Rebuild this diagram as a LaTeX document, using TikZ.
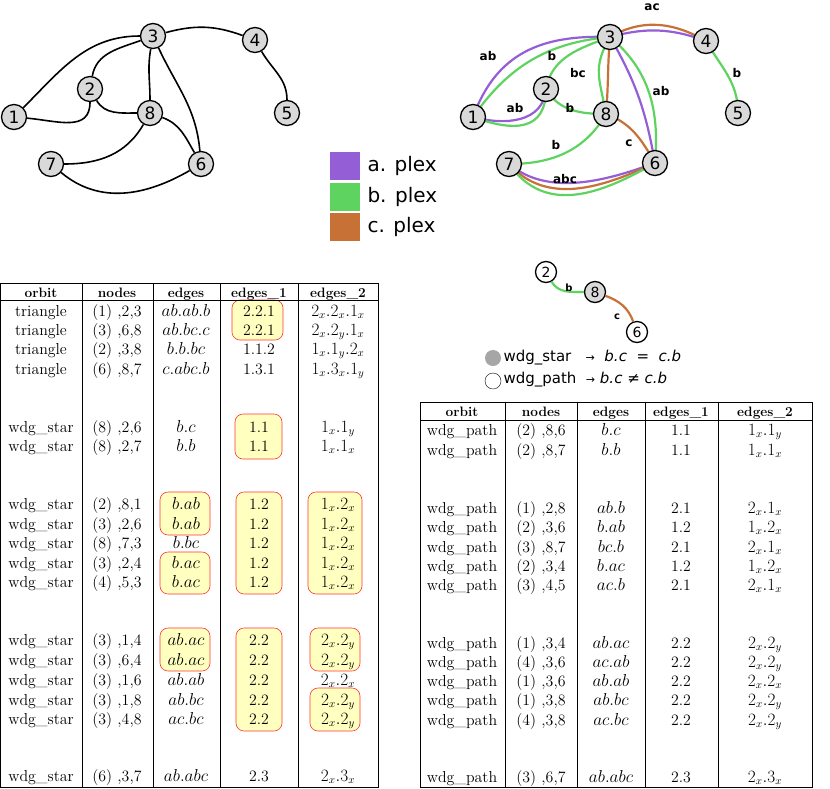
\documentclass[tikz,border=0pt]{standalone}
\usepackage{fontspec}
\newfontfamily\dvs{DejaVu Sans}
\usetikzlibrary{calc}
\definecolor{cpa}{HTML}{935ED6}
\definecolor{cpb}{HTML}{5FD35F}
\definecolor{cpc}{HTML}{C87137}
\definecolor{hl}{HTML}{FFFFC0}
\begin{document}
\begin{tikzpicture}[x=1pt,y=-1pt,
  vx/.style={circle,draw,line width=1.3pt,fill=gray!30,minimum size=25pt,inner sep=0pt,font=\dvs\fontsize{17}{17}\selectfont},
  wx/.style={vx,fill=white},
  ed/.style={line width=1.6pt},
  ce/.style={line width=2.2pt},
  lb/.style={font=\dvs\bfseries\fontsize{12}{12}\selectfont},
  hb/.style={draw=red!80,fill=hl,rounded corners=8pt,line width=0.6pt},
  tx/.style={font=\fontsize{13}{15}\selectfont,anchor=base,scale=1.22,transform shape},
  tm/.style={font=\fontsize{16}{19}\selectfont,anchor=base},
  th/.style={font=\bfseries\fontsize{13}{15}\selectfont,anchor=base,scale=1.05,transform shape},
  tl/.style={line width=0.5pt}]
\useasboundingbox (0,0) rectangle (830,788);
% ---- left graph
\node[vx] (l1) at (14,117) {1};
\node[vx] (l2) at (90,89) {2};
\node[vx] (l3) at (153,36) {3};
\node[vx] (l4) at (255,40) {4};
\node[vx] (l5) at (287,113) {5};
\node[vx] (l8) at (150,113) {8};
\node[vx] (l7) at (51,164) {7};
\node[vx] (l6) at (201,164) {6};
\draw[ed] (l1) to[out=45,in=180] (l3);
\draw[ed] (l1) to[out=-5,in=-90,looseness=1.2] (l2);
\draw[ed] (l2) to[out=80,in=200] (l3);
\draw[ed] (l2) to[out=-60,in=180] (l8);
\draw[ed] (l3) to[out=-100,in=90] (l8);
\draw[ed] (l3) to[out=-65,in=95] (l6);
\draw[ed] (l3) to[out=15,in=160] (l4);
\draw[ed] (l4) to[out=-60,in=90] (l5);
\draw[ed] (l8) to[out=-120,in=0] (l7);
\draw[ed] (l8) to[out=-20,in=120] (l6);
\draw[ed] (l7) to[out=-40,in=-150] (l6);
% ---- right graph edges
\coordinate (r1) at (473,117); \coordinate (r2) at (546,89); \coordinate (r3) at (610,37);
\coordinate (r4) at (706,41); \coordinate (r5) at (738,113); \coordinate (r8) at (606,114);
\coordinate (r7) at (509,164); \coordinate (r6) at (655,163);
\draw[ce,cpa] (r1) to[out=70,in=178,looseness=1.1] (r3);
\draw[ce,cpb] (r1) to[out=55,in=185,looseness=1.0] (r3);
\draw[ce,cpa] (r1) to[out=-15,in=-95,looseness=1.1] (r2);
\draw[ce,cpb] (r1) to[out=-20,in=-90,looseness=1.4] (r2);
\draw[ce,cpb] (r2) to[out=80,in=200] (r3);
\draw[ce,cpb] (r2) to[out=-60,in=180] (r8);
\draw[ce,cpb] (r3) to[out=-120,in=100,looseness=1.2] (r8);
\draw[ce,cpc] (r3) to[out=-95,in=85] (r8);
\draw[ce,cpa] (r3) to[out=-60,in=100] (r6);
\draw[ce,cpb] (r3) to[out=-40,in=85] (r6);
\draw[ce,cpc] (r3) to[out=30,in=150] (r4);
\draw[ce,cpa] (r3) to[out=15,in=160] (r4);
\draw[ce,cpb] (r4) to[out=-60,in=90] (r5);
\draw[ce,cpb] (r8) to[out=-120,in=0] (r7);
\draw[ce,cpc] (r8) to[out=-20,in=120] (r6);
\draw[ce,cpa] (r7) to[out=-40,in=-160,looseness=0.9] (r6);
\draw[ce,cpc] (r7) to[out=-48,in=-155,looseness=1.0] (r6);
\draw[ce,cpb] (r7) to[out=-55,in=-150,looseness=1.1] (r6);
\node[vx] (n1) at (r1) {1}; \node[vx] (n2) at (r2) {2}; \node[vx] (n3) at (r3) {3};
\node[vx] (n4) at (r4) {4}; \node[vx] (n5) at (r5) {5}; \node[vx] (n8) at (r8) {8};
\node[vx] (n7) at (r7) {7}; \node[vx] (n6) at (r6) {6};
\foreach \p/\t in {{488,56}/ab,{552,56}/b,{578,73}/bc,{515,108}/ab,{570,108}/b,{556,145}/b,{629,143}/c,{565,179}/abc,{652,7}/ac,{737,73}/b,{661,91}/ab}
  \node[lb] at (\p) {\t};
% ---- legend
\foreach \y/\c/\t in {166/cpa/a,197/cpb/b,227/cpc/c}{
  \fill[\c] (330,\y-14) rectangle (360,\y+14);
  \node[anchor=west,font=\dvs\fontsize{20}{20}\selectfont] at (364,\y) {\t. plex};}
% ---- small graph
\node[wx,minimum size=21pt,font=\dvs\fontsize{14}{14}\selectfont] (s2) at (546,272) {2};
\node[vx,minimum size=21pt,font=\dvs\fontsize{14}{14}\selectfont] (s8) at (595,292) {8};
\node[wx,minimum size=21pt,font=\dvs\fontsize{14}{14}\selectfont] (s6) at (637,332) {6};
\draw[ce,cpb] (s2) to[out=-60,in=180] (s8);
\draw[ce,cpc] (s8) to[out=-20,in=110] (s6);
\node[lb,font=\dvs\bfseries\fontsize{10}{10}\selectfont] at (569,288) {b};
\node[lb,font=\dvs\bfseries\fontsize{10}{10}\selectfont] at (617,317) {c};
\fill[gray!70] (493,358) circle (8);
\node[circle,draw,minimum size=16pt,inner sep=0pt] (wc) at (493,381) {};
\node[anchor=west,font=\dvs\fontsize{15}{15}\selectfont] at (500,358) {wdg\_star \ \ {\fontsize{11}{11}\selectfont →} \ \textit{b.c} \ = \ \textit{c.b}};
\node[anchor=west,font=\dvs\fontsize{15}{15}\selectfont] at (500,380) {wdg\_path \ {\fontsize{11}{11}\selectfont →} \textit{b.c} ≠ \textit{c.b}};
% ---- left table highlights
\draw[hb] (232,300) rectangle (283,340);
\draw[hb] (235,414) rectangle (282,459);
\draw[hb] (160,492) rectangle (210,535);
\draw[hb] (160,552) rectangle (210,594);
\draw[hb] (236,492) rectangle (282,594);
\draw[hb] (308,492) rectangle (362,594);
\draw[hb] (160,628) rectangle (210,671);
\draw[hb] (236,628) rectangle (282,731);
\draw[hb] (310,628) rectangle (360,671);
\draw[hb] (310,688) rectangle (360,731);
% ---- left table
\draw[tl] (0,283) rectangle (378,787);
\draw[tl] (0,300) -- (378,300);
\foreach \x in {82,153,220,298} \draw[tl] (\x,283) -- (\x,787);
\foreach \x/\t in {41/orbit,117/nodes,186/edges,259/edges\_1,338/edges\_2}
  \node[th] at (\x,297) {\t};
\foreach \y/\a/\b/\c/\d/\e in {
 316/triangle/{(1) ,2,3}/{ab.ab.b}/{2.2.1}/{2_x.2_x.1_x},
 335/triangle/{(3) ,6,8}/{ab.bc.c}/{2.2.1}/{2_x.2_y.1_x},
 354/triangle/{(2) ,3,8}/{b.b.bc}/{1.1.2}/{1_x.1_y.2_x},
 374/triangle/{(6) ,8,7}/{c.abc.b}/{1.3.1}/{1_x.3_x.1_y},
 432/wdg\_star/{(8) ,2,6}/{b.c}/{1.1}/{1_x.1_y},
 451/wdg\_star/{(8) ,2,7}/{b.b}/{1.1}/{1_x.1_x},
 509/wdg\_star/{(2) ,8,1}/{b.ab}/{1.2}/{1_x.2_x},
 529/wdg\_star/{(3) ,2,6}/{b.ab}/{1.2}/{1_x.2_x},
 548/wdg\_star/{(8) ,7,3}/{b.bc}/{1.2}/{1_x.2_x},
 568/wdg\_star/{(3) ,2,4}/{b.ac}/{1.2}/{1_x.2_x},
 587/wdg\_star/{(4) ,5,3}/{b.ac}/{1.2}/{1_x.2_x},
 645/wdg\_star/{(3) ,1,4}/{ab.ac}/{2.2}/{2_x.2_y},
 665/wdg\_star/{(3) ,6,4}/{ab.ac}/{2.2}/{2_x.2_y},
 685/wdg\_star/{(3) ,1,6}/{ab.ab}/{2.2}/{2_x.2_x},
 705/wdg\_star/{(3) ,1,8}/{ab.bc}/{2.2}/{2_x.2_y},
 724/wdg\_star/{(3) ,4,8}/{ac.bc}/{2.2}/{2_x.2_y},
 781/wdg\_star/{(6) ,3,7}/{ab.abc}/{2.3}/{2_x.3_x}}{
  \node[tx] at (41,\y) {\a};
  \node[tx] at (117,\y) {\b};
  \node[tm] at (186,\y) {$\c$};
  \node[tx] at (259,\y) {\d};
  \node[tm] at (338,\y) {$\e$};}
% ---- right table
\draw[tl] (420,402) rectangle (812,787);
\draw[tl] (420,420) -- (812,420);
\foreach \x in {505,577,645,718} \draw[tl] (\x,402) -- (\x,787);
\foreach \x/\t in {462/orbit,541/nodes,611/edges,681/edges\_1,765/edges\_2}
  \node[th] at (\x,416) {\t};
\foreach \y/\a/\b/\c/\d/\e in {
 435/wdg\_path/{(2) ,8,6}/{b.c}/{1.1}/{1_x.1_y},
 455/wdg\_path/{(2) ,8,7}/{b.b}/{1.1}/{1_x.1_x},
 513/wdg\_path/{(1) ,2,8}/{ab.b}/{2.1}/{2_x.1_x},
 532/wdg\_path/{(2) ,3,6}/{b.ab}/{1.2}/{1_x.2_x},
 552/wdg\_path/{(3) ,8,7}/{bc.b}/{2.1}/{2_x.1_x},
 571/wdg\_path/{(2) ,3,4}/{b.ac}/{1.2}/{1_x.2_x},
 590/wdg\_path/{(3) ,4,5}/{ac.b}/{2.1}/{2_x.1_x},
 648/wdg\_path/{(1) ,3,4}/{ab.ac}/{2.2}/{2_x.2_y},
 667/wdg\_path/{(4) ,3,6}/{ac.ab}/{2.2}/{2_x.2_y},
 686/wdg\_path/{(1) ,3,6}/{ab.ab}/{2.2}/{2_x.2_x},
 705/wdg\_path/{(1) ,3,8}/{ab.bc}/{2.2}/{2_x.2_y},
 725/wdg\_path/{(4) ,3,8}/{ac.bc}/{2.2}/{2_x.2_y},
 782/wdg\_path/{(3) ,6,7}/{ab.abc}/{2.3}/{2_x.3_x}}{
  \node[tx] at (462,\y) {\a};
  \node[tx] at (541,\y) {\b};
  \node[tm] at (611,\y) {$\c$};
  \node[tx] at (681,\y) {\d};
  \node[tm] at (765,\y) {$\e$};}
\end{tikzpicture}
\end{document}
